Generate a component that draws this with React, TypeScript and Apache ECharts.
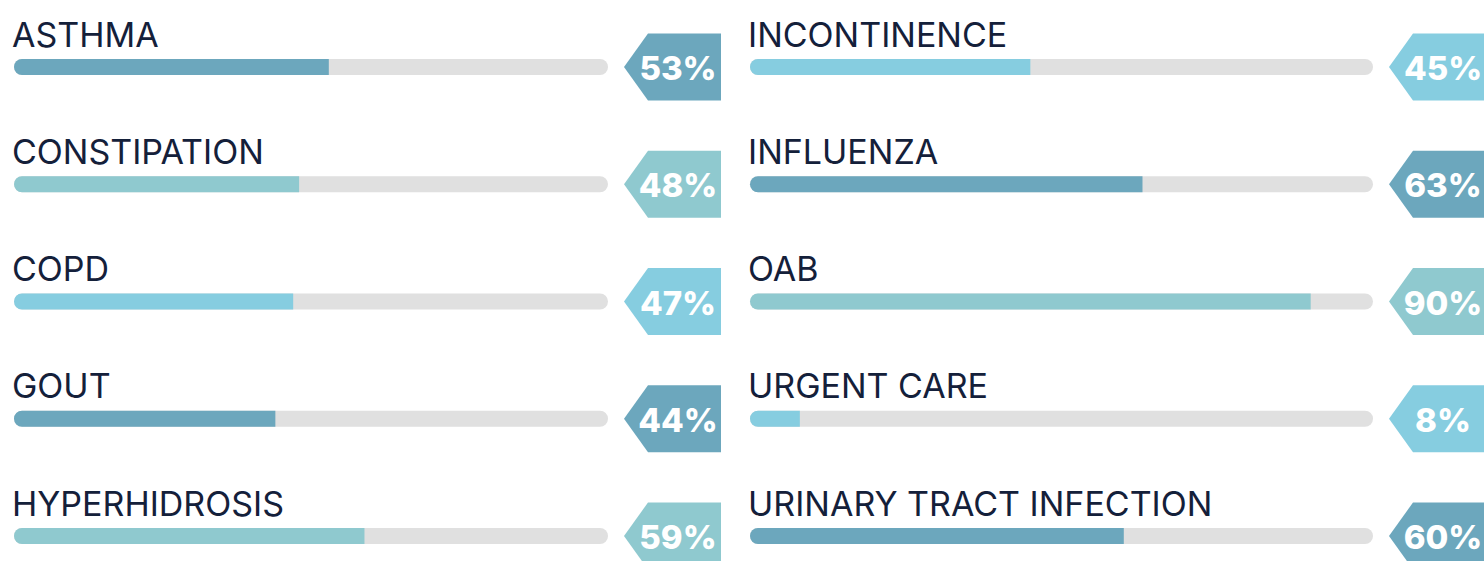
import React, { useEffect, useRef } from "react";
import * as echarts from "echarts";

const leftCategories = ["ASTHMA", "CONSTIPATION", "COPD", "GOUT", "HYPERHIDROSIS"];
const leftValues = [53, 48, 47, 44, 59];
const leftColors = ["#6ca7bd", "#8fc9cf", "#86cde0", "#6ca7bd", "#8fc9cf"];

const rightCategories = ["INCONTINENCE", "INFLUENZA", "OAB", "URGENT CARE", "URINARY TRACT INFECTION"];
const rightValues = [45, 63, 90, 8, 60];
const rightColors = ["#86cde0", "#6ca7bd", "#8fc9cf", "#86cde0", "#6ca7bd"];

const FONT = "Inter, 'Open Sans', sans-serif";
const TEXT_COLOR = "#14203a";

function buildColumn(idx: number, cats: string[], vals: number[], colors: string[]) {
  const bar = {
    type: "bar",
    xAxisIndex: idx,
    yAxisIndex: idx,
    barWidth: 16,
    showBackground: true,
    backgroundStyle: { color: "#e0e0e0", borderRadius: 8 },
    data: vals.map((v, i) => ({
      value: v,
      itemStyle: { color: colors[i], borderRadius: [8, 0, 0, 8] },
    })),
    label: {
      show: true,
      position: [-2, -25],
      verticalAlign: "middle",
      align: "left",
      formatter: (p: any) => cats[p.dataIndex],
      color: TEXT_COLOR,
      fontFamily: FONT,
      fontSize: 34,
      fontWeight: 400,
    },
    silent: true,
  };
  const badge = {
    type: "custom",
    xAxisIndex: idx,
    yAxisIndex: idx,
    clip: false,
    data: vals.map((v, i) => [v, i]),
    renderItem: (params: any, api: any) => {
      const i = api.value(1);
      const v = api.value(0);
      const p = api.coord([100, i]);
      const tip = p[0] + 16;
      const cy = p[1];
      const h = 33.5;
      return {
        type: "group",
        children: [
          {
            type: "polygon",
            shape: {
              points: [
                [tip, cy],
                [tip + 24, cy - h],
                [tip + 97, cy - h],
                [tip + 97, cy + h],
                [tip + 24, cy + h],
              ],
            },
            style: { fill: colors[i] },
          },
          {
            type: "text",
            x: tip + 54,
            y: cy + 1,
            style: {
              text: v + "%",
              fill: "#ffffff",
              font: `800 33px ${FONT}`,
              textAlign: "center",
              textVerticalAlign: "middle",
            },
          },
        ],
      };
    },
  };
  return [bar, badge];
}

export default function App() {
  const ref = useRef<HTMLDivElement>(null);
  useEffect(() => {
    const chart = echarts.init(ref.current!, null, { renderer: "svg" });
    const top = 67;
    const gridH = 536 - 67;
    chart.setOption({
      animation: false,
      grid: [
        { left: 14, top, width: 594, height: gridH },
        { left: 750, top, width: 623, height: gridH },
      ],
      xAxis: [0, 1].map((g) => ({
        type: "value",
        gridIndex: g,
        min: 0,
        max: 100,
        show: false,
      })),
      yAxis: [
        { type: "category", gridIndex: 0, inverse: true, boundaryGap: false, data: leftCategories, show: false },
        { type: "category", gridIndex: 1, inverse: true, boundaryGap: false, data: rightCategories, show: false },
      ],
      series: [
        ...buildColumn(0, leftCategories, leftValues, leftColors),
        ...buildColumn(1, rightCategories, rightValues, rightColors),
      ],
    });
    return () => chart.dispose();
  }, []);
  return (
    <div
      ref={ref}
      style={{ position: "absolute", left: 0, top: 0, width: 1484, height: 561, background: "#ffffff" }}
    />
  );
}
